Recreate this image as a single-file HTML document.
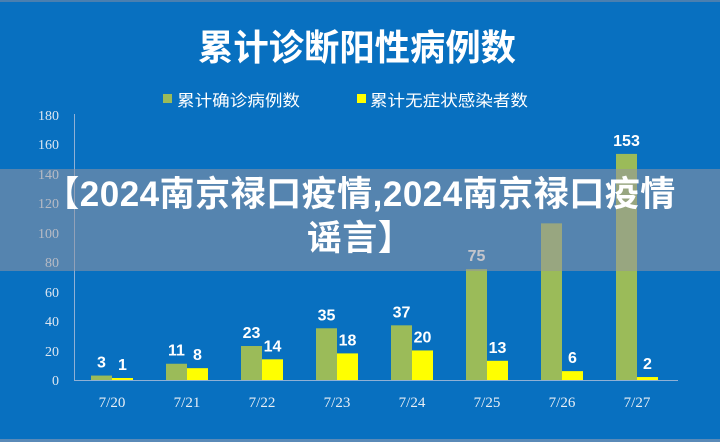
<!DOCTYPE html>
<html><head><meta charset="utf-8"><style>
html,body{margin:0;padding:0}
body{width:720px;height:442px;background:#0870c0;position:relative;overflow:hidden;font-family:"Liberation Sans","Noto Sans CJK SC",sans-serif}
.band{position:absolute;left:0;top:169px;width:720px;height:102px;background:rgba(150,150,160,0.55)}
.bt{position:absolute;left:0;top:173px;width:720px;text-align:center;color:#fff;font-weight:bold;font-size:35px;line-height:44px;letter-spacing:0.5px;font-family:"Liberation Sans","Noto Sans CJK SC",sans-serif}
</style></head><body>
<svg width="720" height="442" style="position:absolute;left:0;top:0">
<rect x="0" y="0" width="720" height="2" fill="#4a7fb0"/>
<rect x="0" y="439" width="720" height="3" fill="#5a8ab8"/>
<text x="357" y="60" text-anchor="middle" fill="#fff" font-size="36" font-weight="bold" font-family="Noto Sans CJK SC, sans-serif" textLength="318" lengthAdjust="spacingAndGlyphs">累计诊断阳性病例数</text>
<rect x="163" y="94" width="9" height="9" fill="#9bbb59"/>
<text x="177" y="106" fill="#fff" font-size="16" font-family="Noto Sans CJK SC, sans-serif" textLength="123" lengthAdjust="spacingAndGlyphs">累计确诊病例数</text>
<rect x="357" y="94" width="9" height="9" fill="#ffff00"/>
<text x="370" y="106" fill="#fff" font-size="16" font-family="Noto Sans CJK SC, sans-serif" textLength="158" lengthAdjust="spacingAndGlyphs">累计无症状感染者数</text>
<line x1="74.5" y1="114" x2="74.5" y2="380" stroke="#8fb0d5" stroke-width="1"/>
<line x1="74" y1="380.5" x2="678" y2="380.5" stroke="#8fb0d5" stroke-width="1"/>
<g fill="#dde6f0" font-size="14" font-family="Liberation Serif, serif" text-anchor="end">
<text x="59" y="120">180</text><text x="59" y="149">160</text><text x="59" y="179">140</text><text x="59" y="208">120</text><text x="59" y="238">100</text><text x="59" y="267">80</text><text x="59" y="297">60</text><text x="59" y="326">40</text><text x="59" y="356">20</text><text x="59" y="385">0</text>
</g>
<g id="bars"></g>
</svg>
<div class="band"></div>
<div class="bt">【2024南京禄口疫情,2024南京禄口疫情<br>谣言】</div>
<script>
var g=[3,11,23,35,37,75,106,153],y=[1,8,14,18,20,13,6,2],d=["7/20","7/21","7/22","7/23","7/24","7/25","7/26","7/27"];
var s="",k=266/180;
for(var i=0;i<8;i++){var x=91+75*i;var hg=g[i]*k,hy=Math.max(y[i]*k,2);
s+='<rect x="'+x+'" y="'+(380-hg)+'" width="21" height="'+hg+'" fill="#9bbb59"/>';
s+='<rect x="'+(x+21)+'" y="'+(380-hy)+'" width="21" height="'+hy+'" fill="#ffff00"/>';
if(i!=6)s+='<text x="'+(x+10.5)+'" y="'+(380-hg-8)+'" text-anchor="middle" fill="#fff" font-weight="bold" font-size="16" font-family="Liberation Sans Narrow, Liberation Sans, sans-serif">'+g[i]+'</text>';
s+='<text x="'+(x+31.5)+'" y="'+(380-hy-8)+'" text-anchor="middle" fill="#fff" font-weight="bold" font-size="16" font-family="Liberation Sans Narrow, Liberation Sans, sans-serif">'+y[i]+'</text>';
s+='<text x="'+(x+21)+'" y="407" text-anchor="middle" fill="#e8eef5" font-size="15" font-family="Liberation Serif, serif">'+d[i]+'</text>';}
document.getElementById("bars").outerHTML=s;
</script>
</body></html>
